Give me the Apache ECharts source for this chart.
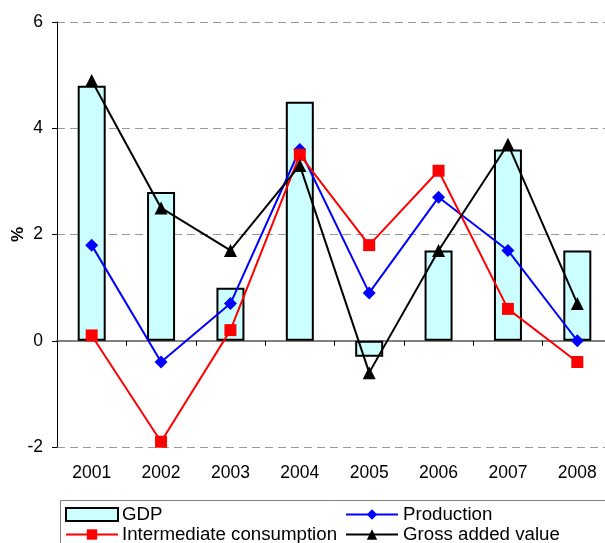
<!DOCTYPE html>
<html><head><meta charset="utf-8">
<script src="https://cdn.jsdelivr.net/npm/echarts@6/dist/echarts.min.js"></script>
<style>html,body{margin:0;padding:0;background:#fff}#c{width:605px;height:543px}</style>
</head><body><div id="c"></div>
<script>
const years = ['2001','2002','2003','2004','2005','2006','2007','2008'];
const gdp = [4.8, 2.8, 1.0, 4.5, -0.3, 1.7, 3.6, 1.7];
const production = [1.8, -0.4, 0.7, 3.6, 0.9, 2.7, 1.7, 0.0];
const intermediate = [0.1, -1.9, 0.2, 3.5, 1.8, 3.2, 0.6, -0.4];
const gva = [4.9, 2.5, 1.7, 3.3, -0.6, 1.7, 3.7, 0.7];
const yTicks = [-2, 0, 2, 4, 6];

const chart = echarts.init(document.getElementById('c'));
const font = 'Liberation Sans, Arial, sans-serif';
chart.setOption({
  animation: false,
  textStyle: {fontFamily: font},
  grid: {left: 57, top: 22, bottom: 96, right: -7, containLabel: false, outerBoundsMode: 'none'},
  xAxis: [{
    type: 'category', data: years, position: 'bottom',
    axisLine: {show: false, onZero: false}, axisTick: {show: false},
    axisLabel: {color: '#000', fontSize: 17.5, margin: 17, fontFamily: font}
  }, {
    type: 'category', data: years, position: 'top',
    axisLine: {show: true, onZero: true, lineStyle: {color: '#808080', width: 2}},
    axisTick: {show: true, inside: true, length: 5, lineStyle: {color: '#000', width: 1}},
    axisLabel: {show: false}
  }],
  yAxis: {
    type: 'value', min: -2, max: 6, interval: 2,
    name: '%', nameLocation: 'middle', nameRotate: 90, nameGap: 30, nameMoveOverlap: false,
    nameTextStyle: {fontSize: 17, fontWeight: 'bold', color: '#000', fontFamily: font},
    axisLine: {show: true, lineStyle: {color: '#000', width: 1}},
    axisTick: {show: true, length: 5, lineStyle: {color: '#000'}},
    axisLabel: {color: '#000', fontSize: 17.5, margin: 14, fontFamily: font,
      formatter: v => yTicks.includes(v) ? String(v) : ''},
    splitLine: {show: true, lineStyle: {color: '#999', type: [8, 5], width: 1}}
  },
  legend: [{
    data: [{name: 'GDP', icon: 'rect'}, 'Intermediate consumption'], orient: 'vertical',
    left: 65, top: 505, height: 80, itemGap: 1, itemWidth: 52, itemHeight: 13,
    textStyle: {fontSize: 18.7, lineHeight: 18, color: '#000', padding: [0, 0, 0, -1]}, padding: 0
  }, {
    data: ['Production', 'Gross added value'], orient: 'vertical',
    left: 345, top: 505, height: 80, itemGap: 1, itemWidth: 52, itemHeight: 13,
    textStyle: {fontSize: 18.7, lineHeight: 18, color: '#000', padding: [0, 0, 0, 0]}, padding: 0
  }],
  graphic: [{
    type: 'rect', shape: {x: 60.5, y: 500.5, width: 560, height: 60},
    style: {fill: 'none', stroke: '#808080', lineWidth: 1}, z: 10, silent: true
  }],
  series: [{
    name: 'GDP', type: 'bar', data: gdp, barWidth: 28,
    itemStyle: {color: '#CCFFFF', borderColor: '#000', borderWidth: 2}
  }, {
    name: 'Production', type: 'line', data: production,
    symbol: 'diamond', symbolSize: 13,
    lineStyle: {color: '#0000FF', width: 2}, itemStyle: {color: '#0000FF'}
  }, {
    name: 'Intermediate consumption', type: 'line', data: intermediate,
    symbol: 'rect', symbolSize: 12,
    lineStyle: {color: '#FF0000', width: 2}, itemStyle: {color: '#FF0000'}
  }, {
    name: 'Gross added value', type: 'line', data: gva,
    symbol: 'triangle', symbolSize: 13,
    lineStyle: {color: '#000', width: 2}, itemStyle: {color: '#000'}
  }]
});
</script></body></html>
